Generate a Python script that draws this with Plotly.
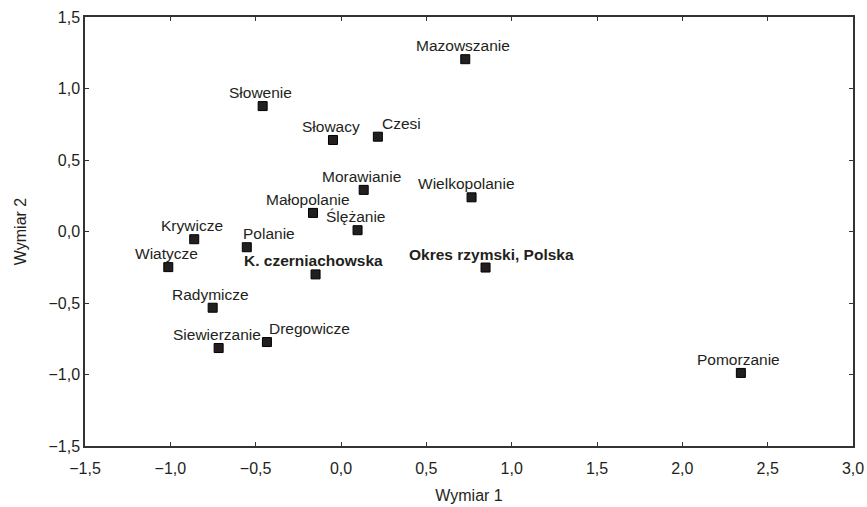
import plotly.graph_objects as go

# ---- data ----
names = ["Mazowszanie", "Słowenie", "Słowacy", "Czesi", "Morawianie",
         "Wielkopolanie", "Małopolanie", "Ślężanie", "Krywicze", "Polanie",
         "Wiatycze", "K. czerniachowska", "Okres rzymski, Polska",
         "Radymicze", "Siewierzanie", "Dregowicze", "Pomorzanie"]
dim1 = [0.728, -0.459, -0.047, 0.216, 0.133,
        0.765, -0.164, 0.097, -0.860, -0.552,
        -1.012, -0.149, 0.847,
        -0.752, -0.717, -0.434, 2.343]
dim2 = [1.205, 0.877, 0.640, 0.663, 0.291,
        0.239, 0.130, 0.009, -0.054, -0.110,
        -0.249, -0.300, -0.252,
        -0.533, -0.815, -0.773, -0.989]
bold_names = ["K. czerniachowska", "Okres rzymski, Polska"]

x_ticks = [-1.5, -1.0, -0.5, 0.0, 0.5, 1.0, 1.5, 2.0, 2.5, 3.0]
x_tick_labels = ["−1,5", "−1,0", "−0,5", "0,0", "0,5", "1,0", "1,5", "2,0", "2,5", "3,0"]
y_ticks = [-1.5, -1.0, -0.5, 0.0, 0.5, 1.0, 1.5]
y_tick_labels = ["−1,5", "−1,0", "−0,5", "0,0", "0,5", "1,0", "1,5"]

# ---- label placement tweaks (pixels) ----
label_style = {
    "Polanie": ("left", -6),
    "Dregowicze": ("left", 0),
    "Czesi": ("left", 2),
    "Okres rzymski, Polska": ("center", 6),
    "Wielkopolanie": ("center", -5),
    "Małopolanie": ("center", -5),
}

FONT = "Liberation Sans, Arial, sans-serif"
INK = "#231F20"

fig = go.Figure()
fig.add_trace(go.Scatter(
    x=dim1, y=dim2, mode="markers",
    marker=dict(symbol="square", size=9, color=INK,
                line=dict(color="#000000", width=1)),
    hovertext=names, showlegend=False,
))

for n, x, y in zip(names, dim1, dim2):
    anchor, dx = label_style.get(n, ("center", -2))
    txt = f"<b>{n}</b>" if n in bold_names else n
    fig.add_annotation(
        x=x, y=y, xref="x", yref="y", text=txt, showarrow=False,
        xanchor=anchor, yanchor="middle", xshift=dx, yshift=13.5,
        font=dict(family=FONT, size=15.5, color=INK),
    )

axis_common = dict(
    showline=True, linecolor="#333333", linewidth=1.5, mirror="ticks",
    ticks="inside", ticklen=4, tickwidth=1, tickcolor="#333333",
    showgrid=False, zeroline=False, automargin=False,
    tickfont=dict(family=FONT, size=16, color=INK),
)

fig.update_layout(
    width=867, height=507,
    margin=dict(l=85, r=14, t=17, b=61),
    paper_bgcolor="white", plot_bgcolor="white",
    font=dict(family=FONT, color=INK),
    xaxis=dict(range=[-1.5, 3.0], tickvals=x_ticks, ticktext=x_tick_labels,
               ticklabelstandoff=7,
               title=dict(text="Wymiar 1", standoff=14,
                          font=dict(family=FONT, size=16, color=INK)),
               **axis_common),
    yaxis=dict(range=[-1.5, 1.5], tickvals=y_ticks, ticktext=y_tick_labels,
               title=dict(text="Wymiar 2", standoff=18,
                          font=dict(family=FONT, size=16, color=INK)),
               **axis_common),
)

fig.write_html(
    "out.html",
    config={"displayModeBar": False},
    post_script="document.body.style.margin='0';document.body.style.overflow='hidden';",
)
